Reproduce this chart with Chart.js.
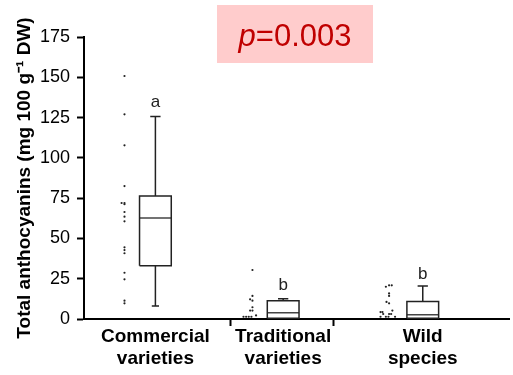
<!DOCTYPE html>
<html>
<head>
<meta charset="utf-8">
<script src="https://cdn.jsdelivr.net/npm/chart.js@4.4.1/dist/chart.umd.min.js"></script>
<style>
  html, body { margin: 0; padding: 0; background: #fff; }
  #wrap { width: 513px; height: 375px; position: relative; }
</style>
</head>
<body>
<div id="wrap"><canvas id="chart"></canvas></div>
<script>
// categories and where each box sits on the x scale (1 unit = one separator gap)
const categories = [['Commercial', 'varieties'], ['Traditional', 'varieties'], ['Wild', 'species']];
const boxCenters = [0.27, 1.51, 2.865];
const separators = [1, 2];
const letters = ['a', 'b', 'b'];
const letterY = [131.5, 18, 25];

// box statistics
const whiskerLow = [8, 0.5, 0.5];
const q1 = [33, 0.5, 0.5];
const median = [62.7, 3.9, 2.7];
const q3 = [76.3, 11.4, 10.9];
const whiskerHigh = [125.6, 12.6, 20.5];

// individual observations (x jitter, y value)
const commercialX = [-0.03, -0.03, -0.03, -0.03, -0.058, -0.03, -0.03, -0.03, -0.03, -0.03, -0.03, -0.03, -0.03, -0.03, -0.03, -0.03, -0.03];
const commercialY = [150.8, 127, 107.8, 82.5, 72, 72, 71.2, 66.4, 63.5, 60.6, 44.5, 42.8, 40.8, 28.7, 24.6, 11.4, 9.7];
const traditionalX = [1.212, 1.212, 1.189, 1.212, 1.212, 1.189, 1.212, 1.125, 1.151, 1.176, 1.202, 1.247];
const traditionalY = [30.4, 14.3, 12.2, 11.4, 7.3, 5.2, 5.2, 1.4, 1.4, 1.4, 1.4, 2.2];
const wildX = [2.507, 2.538, 2.564, 2.538, 2.538, 2.513, 2.538, 2.455, 2.474, 2.570, 2.481, 2.538, 2.558, 2.455, 2.507, 2.532, 2.596];
const wildY = [20, 20.9, 20.9, 15.9, 14.3, 10.6, 9.7, 4.3, 4.3, 5.2, 3.1, 3.1, 3.1, 1.4, 1.4, 1.4, 1.4];

const yTicks = [0, 25, 50, 75, 100, 125, 150, 175];
const pValueText = '=0.003';

const boxHalf = 0.154;
const capHalf = 0.05;
const dotSize = 1.1;
const fontFamily = '"Liberation Sans", Arial, sans-serif';

function pts(xs, ys) {
  return xs.map((x, i) => ({ x: x, y: ys[i] }));
}

// one polyline per box, broken by null points
function boxOutline(i) {
  const c = boxCenters[i];
  const gap = { x: null, y: null };
  return [
    { x: c - boxHalf, y: q1[i] }, { x: c + boxHalf, y: q1[i] },
    { x: c + boxHalf, y: q3[i] }, { x: c - boxHalf, y: q3[i] },
    { x: c - boxHalf, y: q1[i] }, gap,
    { x: c, y: q3[i] }, { x: c, y: whiskerHigh[i] }, gap,
    { x: c - capHalf, y: whiskerHigh[i] }, { x: c + capHalf, y: whiskerHigh[i] }, gap,
    { x: c, y: q1[i] }, { x: c, y: whiskerLow[i] }, gap,
    { x: c - capHalf * 0.7, y: whiskerLow[i] }, { x: c + capHalf * 0.7, y: whiskerLow[i] }
  ];
}

function medianLine(i) {
  const c = boxCenters[i];
  return [{ x: c - boxHalf, y: median[i] }, { x: c + boxHalf, y: median[i] }];
}

const datasets = [];
[[commercialX, commercialY], [traditionalX, traditionalY], [wildX, wildY]].forEach(([xs, ys]) => {
  datasets.push({
    data: pts(xs, ys),
    pointRadius: dotSize,
    pointBackgroundColor: '#222',
    pointBorderWidth: 0,
    showLine: false
  });
});
categories.forEach((_, i) => {
  datasets.push({
    data: boxOutline(i),
    showLine: true,
    spanGaps: false,
    borderColor: '#222',
    borderWidth: 1.5,
    pointRadius: 0,
    fill: false
  });
  datasets.push({
    data: medianLine(i),
    showLine: true,
    borderColor: '#444',
    borderWidth: 1.5,
    pointRadius: 0,
    fill: false
  });
});

const annotations = {
  id: 'annotations',
  afterDatasetsDraw(chart) {
    const { ctx, scales } = chart;
    ctx.save();
    // significance letters
    ctx.fillStyle = '#222';
    ctx.font = '17px ' + fontFamily;
    ctx.textAlign = 'center';
    ctx.textBaseline = 'alphabetic';
    letters.forEach((t, i) => {
      ctx.fillText(t, scales.x.getPixelForValue(boxCenters[i]), scales.y.getPixelForValue(letterY[i]));
    });
    // p-value box
    ctx.fillStyle = '#ffcccc';
    ctx.fillRect(217, 5, 156, 58);
    ctx.fillStyle = '#c00000';
    ctx.textAlign = 'left';
    ctx.font = 'italic 31px ' + fontFamily;
    const pw = ctx.measureText('p').width;
    ctx.font = '31px ' + fontFamily;
    const rw = ctx.measureText(pValueText).width;
    const startX = 295 - (pw + rw) / 2;
    ctx.font = 'italic 31px ' + fontFamily;
    ctx.fillText('p', startX, 46);
    ctx.font = '31px ' + fontFamily;
    ctx.fillText(pValueText, startX + pw, 46);
    ctx.restore();
  }
};

const xTickValues = separators.concat(boxCenters);

new Chart(document.getElementById('chart'), {
  type: 'scatter',
  data: { datasets },
  options: {
    responsive: true,
    maintainAspectRatio: false,
    animation: false,
    layout: { padding: { top: 37, right: -2, bottom: 0, left: 0 } },
    plugins: { legend: { display: false }, tooltip: { enabled: false } },
    scales: {
      x: {
        type: 'linear',
        min: -0.423,
        max: 3.702,
        afterBuildTicks: axis => { axis.ticks = xTickValues.map(v => ({ value: v })); },
        afterFit: axis => { axis.height = 56; },
        border: { color: '#000', width: 2 },
        grid: {
          drawOnChartArea: false,
          tickLength: 7,
          tickWidth: 2,
          tickColor: ctx => separators.includes(ctx.tick && ctx.tick.value) ? '#000' : 'rgba(0,0,0,0)'
        },
        ticks: {
          autoSkip: false,
          maxRotation: 0,
          padding: -1,
          color: '#000',
          font: { family: fontFamily, size: 19, weight: 'bold', lineHeight: 1.2 },
          callback: v => {
            const i = boxCenters.indexOf(v);
            return i >= 0 ? categories[i] : '';
          }
        }
      },
      y: {
        min: 0,
        max: 175,
        afterBuildTicks: axis => { axis.ticks = yTicks.map(v => ({ value: v })); },
        afterFit: axis => { axis.width = 84; },
        border: { color: '#000', width: 2 },
        grid: { drawOnChartArea: false, tickLength: 7, tickWidth: 2, tickColor: '#000' },
        ticks: {
          padding: 7,
          color: '#000',
          font: { family: fontFamily, size: 18 }
        },
        title: {
          display: true,
          text: 'Total anthocyanins (mg 100 g\u207B\u00B9 DW)',
          color: '#000',
          padding: { top: 13, bottom: 0 },
          font: { family: fontFamily, size: 19, weight: 'bold' }
        }
      }
    }
  },
  plugins: [annotations]
});
</script>
</body>
</html>
